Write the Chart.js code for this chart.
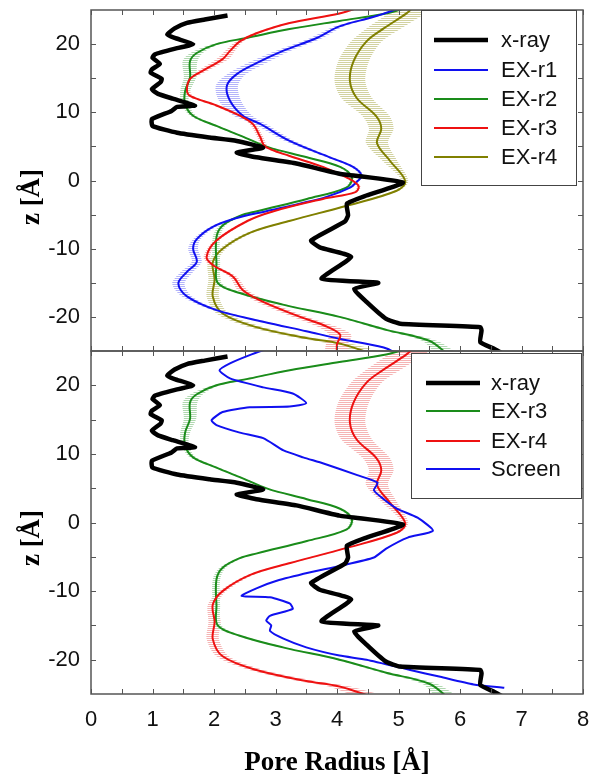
<!DOCTYPE html>
<html>
<head>
<meta charset="utf-8">
<script src="https://cdn.jsdelivr.net/npm/chart.js@4.4.0/dist/chart.umd.min.js"></script>
<style>
  html, body { margin: 0; padding: 0; background: #fff; }
  #wrap { position: relative; width: 592px; height: 778px; }
  #topChart { position: absolute; left: 0; top: 0; }
  #botChart { position: absolute; left: 0; top: 350px; }
</style>
</head>
<body>
<div id="wrap">
  <canvas id="topChart" width="592" height="352"></canvas>
  <canvas id="botChart" width="592" height="428"></canvas>
</div>
<script>
// axis ticks (minor ticks every 0.5 A in r, every 5 A in z)
const xTickValues = [0, 0.5, 1, 1.5, 2, 2.5, 3, 3.5, 4, 4.5, 5, 5.5, 6, 6.5, 7, 7.5, 8];
const zTickLabels = [-20, -10, 0, 10, 20];
const zTickMarks = [-20, -15, -10, -5, 0, 5, 10, 15, 20];

// x-ray profile (same in both panels)
const xrayZ = [24.2, 23.6, 23.1, 22.3, 21.4, 20.9, 20.0, 19.4, 18.5, 18.0, 17.1, 16.3, 15.8, 14.9, 14.4, 13.4, 12.7, 12.0, 11.0, 10.8, 10.2, 9.0, 8.0, 7.0, 6.3, 5.8, 4.8, 4.1, 3.4, 2.5, 1.0, -0.3, -2.2, -3.4, -5.1, -6.0, -8.8, -9.8, -11.2, -14.4, -15.0, -15.9, -17.8, -20.3, -21.0, -21.5, -22.0, -23.7, -24.7, -25.5];
const xrayR = [2.22, 1.85, 1.56, 1.36, 1.24, 1.36, 1.66, 1.40, 1.04, 1.00, 1.12, 0.99, 0.97, 1.15, 1.13, 0.99, 1.09, 1.33, 1.69, 1.40, 1.31, 0.99, 1.00, 1.40, 1.93, 2.37, 2.80, 2.37, 2.69, 3.34, 4.04, 5.07, 4.48, 4.16, 4.18, 4.13, 3.58, 3.72, 4.23, 3.75, 4.67, 4.28, 4.48, 4.80, 5.03, 6.33, 6.35, 6.33, 6.56, 6.72];

// EX-r1 (top panel, blue)
const exr1Z = [25.5, 24.0, 22.6, 20.9, 19.0, 17.2, 15.6, 13.9, 11.7, 9.5, 8.3, 5.8, 3.4, 2.0, 0.7, -0.2, -1.0, -2.4, -3.4, -4.5, -5.5, -6.8, -8.6, -10.0, -11.9, -13.4, -15.1, -17.0, -19.0, -20.7, -22.1, -23.2, -24.5, -25.5];
const exr1R = [5.10, 4.60, 4.04, 3.67, 3.12, 2.69, 2.37, 2.21, 2.26, 2.47, 2.75, 3.23, 3.88, 4.26, 4.40, 4.32, 4.22, 3.83, 3.39, 2.85, 2.37, 1.98, 1.72, 1.66, 1.72, 1.56, 1.42, 1.56, 2.04, 2.80, 3.50, 4.04, 4.76, 5.00];
const exr1Err = [0.05, 0.05, 0.08, 0.10, 0.12, 0.15, 0.15, 0.18, 0.18, 0.15, 0.10, 0.08, 0.05, 0.04, 0.03, 0.03, 0.03, 0.03, 0.03, 0.03, 0.04, 0.05, 0.06, 0.08, 0.08, 0.10, 0.10, 0.08, 0.06, 0.05, 0.04, 0.04, 0.04, 0.04];

// EX-r2 (top panel, green) - the bottom panel's green EX-r3 traces the same profile
const exr2Z = [25.5, 24.5, 23.4, 22.2, 20.9, 20.0, 18.7, 17.5, 15.1, 13.1, 11.2, 9.5, 8.0, 6.5, 4.9, 3.4, 2.0, 0.5, -1.0, -2.7, -4.5, -5.2, -6.6, -8.3, -12.1, -15.0, -16.5, -18.2, -20.0, -21.9, -23.5, -25.5];
const exr2R = [5.20, 4.80, 4.04, 3.23, 2.53, 2.04, 1.72, 1.61, 1.61, 1.53, 1.53, 1.66, 2.04, 2.45, 2.88, 3.51, 4.05, 4.24, 4.16, 3.51, 2.70, 2.42, 2.14, 2.04, 2.04, 2.06, 2.42, 3.12, 4.04, 4.80, 5.50, 5.80];
const exr2Err = [0.05, 0.05, 0.05, 0.05, 0.05, 0.06, 0.10, 0.12, 0.10, 0.08, 0.06, 0.05, 0.04, 0.03, 0.03, 0.03, 0.03, 0.03, 0.03, 0.03, 0.03, 0.03, 0.05, 0.06, 0.06, 0.06, 0.05, 0.05, 0.05, 0.08, 0.12, 0.15];

// EX-r3 (top panel, red)
const exr3Z = [25.5, 24.5, 23.1, 21.6, 20.4, 19.0, 17.8, 16.1, 14.9, 13.3, 12.4, 11.0, 9.5, 8.3, 6.4, 5.0, 3.6, 2.0, 0.2, -0.8, -1.7, -2.7, -4.5, -5.9, -8.8, -11.2, -12.4, -14.1, -16.1, -17.8, -20.0, -21.3, -22.6, -24.0, -25.5];
const exr3R = [4.40, 4.04, 3.23, 2.69, 2.42, 2.26, 2.14, 1.82, 1.61, 1.56, 1.61, 2.04, 2.42, 2.63, 2.75, 2.83, 3.23, 3.77, 4.21, 4.35, 4.30, 3.77, 2.97, 2.55, 2.04, 1.88, 1.98, 2.31, 2.47, 2.80, 3.40, 3.80, 4.05, 4.00, 4.00];
const exr3Err = [0.05, 0.05, 0.05, 0.05, 0.06, 0.08, 0.10, 0.08, 0.06, 0.05, 0.05, 0.05, 0.05, 0.05, 0.05, 0.05, 0.04, 0.03, 0.03, 0.03, 0.03, 0.03, 0.03, 0.03, 0.04, 0.05, 0.05, 0.06, 0.08, 0.10, 0.12, 0.15, 0.18, 0.18, 0.18];

// EX-r4 (olive in top panel, red in bottom panel)
const exr4Z = [25.5, 24.5, 22.3, 20.4, 17.5, 14.6, 12.1, 9.4, 7.6, 5.5, 2.9, -0.1, -1.5, -3.7, -5.9, -7.6, -10.0, -12.0, -14.5, -17.0, -19.5, -21.5, -23.1, -23.9, -25.5];
const exr4R = [5.25, 5.13, 4.76, 4.48, 4.27, 4.21, 4.32, 4.64, 4.72, 4.65, 4.86, 5.11, 4.97, 4.16, 3.24, 2.60, 2.14, 1.98, 2.01, 1.98, 2.14, 2.69, 3.50, 4.04, 4.60];
const exr4Err = [0.30, 0.30, 0.28, 0.25, 0.25, 0.25, 0.25, 0.22, 0.20, 0.18, 0.12, 0.05, 0.04, 0.04, 0.04, 0.05, 0.06, 0.08, 0.10, 0.10, 0.10, 0.12, 0.15, 0.18, 0.20];

// Screen (bottom panel, blue)
const screenZ = [25.6, 24.4, 23.2, 22.2, 21.0, 19.7, 18.8, 17.4, 16.9, 16.8, 16.1, 14.9, 14.2, 13.1, 12.3, 10.5, 9.5, 8.6, 6.9, 5.8, 4.7, 3.4, 2.0, 0.7, -1.2, -2.2, -3.8, -5.1, -6.3, -7.3, -8.5, -9.6, -10.7, -10.9, -11.8, -12.6, -13.6, -14.3, -15.0, -15.8, -16.9, -18.2, -19.4, -20.0, -21.5, -22.5, -23.6, -24.1];
const screenR = [2.95, 2.58, 2.26, 2.09, 2.26, 2.80, 3.28, 3.50, 3.23, 2.58, 2.14, 1.96, 2.04, 2.42, 2.80, 3.13, 3.45, 3.78, 4.33, 4.66, 4.60, 4.76, 4.98, 5.31, 5.56, 5.15, 4.80, 4.60, 4.06, 3.55, 3.02, 2.69, 2.45, 2.91, 3.23, 3.28, 2.91, 2.85, 2.93, 2.91, 3.12, 3.50, 4.04, 4.48, 5.19, 5.68, 6.22, 6.72];

const BLACK = '#000000', BLUE = '#1010f0', GREEN = '#1a8c1a', RED = '#ee1111', OLIVE = '#808000';

function pts(r, z) {
  return r.map((v, i) => ({ x: v, y: z[i] }));
}

// closed outline r-err going down, r+err coming back up
function bandPts(r, z, e) {
  const lo = r.map((v, i) => ({ x: v - e[i], y: z[i] }));
  const hi = r.map((v, i) => ({ x: v + e[i], y: z[i] })).reverse();
  return lo.concat(hi);
}

// horizontal hatch like the error bars of the original
function hatch(color) {
  const c = document.createElement('canvas');
  c.width = 4; c.height = 2;
  const g = c.getContext('2d');
  g.fillStyle = color;
  g.fillRect(0, 0, 4, 1);
  return g.createPattern(c, 'repeat');
}

function line(label, r, z, color, width, tension, order) {
  return {
    label: label, data: pts(r, z), showLine: true, borderColor: color, backgroundColor: color,
    borderWidth: width, pointRadius: 0, tension: tension, fill: false, order: order
  };
}

function band(r, z, e, color) {
  return {
    label: '', isBand: true, data: bandPts(r, z, e), showLine: true, borderWidth: 0,
    borderColor: 'rgba(0,0,0,0)', backgroundColor: hatch(color), pointRadius: 0,
    tension: 0.3, fill: 'shape', order: 10
  };
}

const framePlugin = {
  id: 'frame',
  afterDatasetsDraw(chart, args, opts) {
    const { ctx, chartArea: a, scales: { x, y } } = chart;
    ctx.save();
    ctx.strokeStyle = '#555';
    ctx.lineWidth = 1.5;
    ctx.strokeRect(a.left, a.top, a.right - a.left, a.bottom - a.top);
    ctx.lineWidth = 1;
    ctx.beginPath();
    xTickValues.forEach(v => {
      const px = Math.round(x.getPixelForValue(v)) + 0.5;
      ctx.moveTo(px, a.top); ctx.lineTo(px, a.top + 5);
      ctx.moveTo(px, a.bottom); ctx.lineTo(px, a.bottom - 5);
    });
    zTickMarks.forEach(v => {
      const py = Math.round(y.getPixelForValue(v)) + 0.5;
      ctx.moveTo(a.left, py); ctx.lineTo(a.left + 5, py);
      ctx.moveTo(a.right, py); ctx.lineTo(a.right - 5, py);
    });
    ctx.stroke();

    // legend box
    const b = opts.box;
    ctx.fillStyle = '#fff';
    ctx.fillRect(b[0], b[1], b[2] - b[0], b[3] - b[1]);
    ctx.strokeStyle = '#444';
    ctx.lineWidth = 1;
    ctx.strokeRect(b[0] + 0.5, b[1] + 0.5, b[2] - b[0], b[3] - b[1]);
    const items = chart.data.datasets.filter(d => !d.isBand);
    ctx.font = '22px "Liberation Sans", Arial, sans-serif';
    ctx.textBaseline = 'middle';
    ctx.textAlign = 'left';
    items.forEach((d, i) => {
      const ly = opts.rows[i];
      ctx.strokeStyle = d.borderColor;
      ctx.lineWidth = d.borderWidth;
      ctx.beginPath();
      ctx.moveTo(opts.lineX[0], ly); ctx.lineTo(opts.lineX[1], ly);
      ctx.stroke();
      ctx.fillStyle = '#111';
      ctx.fillText(d.label, opts.textX, ly + 1);
    });

    // axis titles
    ctx.fillStyle = '#000';
    ctx.font = 'bold 27px "Liberation Serif", "Times New Roman", serif';
    ctx.textAlign = 'center';
    ctx.save();
    ctx.translate(opts.yTitle[0], opts.yTitle[1]);
    ctx.rotate(-Math.PI / 2);
    ctx.fillText('z [Å]', 0, 0);
    ctx.restore();
    if (opts.xTitle) {
      ctx.fillText('Pore Radius [Å]', opts.xTitle[0], opts.xTitle[1]);
    }
    ctx.restore();
  }
};

Chart.defaults.font.family = '"Liberation Sans", Arial, sans-serif';
Chart.defaults.font.size = 22;
Chart.defaults.color = '#111';

// no extra room for end labels: the plot areas are placed by hand
function noPad(s) {
  s.paddingTop = 0; s.paddingBottom = 0; s.paddingLeft = 0; s.paddingRight = 0;
}

function yScale() {
  return {
    type: 'linear', min: -25, max: 25,
    afterBuildTicks: s => { s.ticks = zTickLabels.map(v => ({ value: v })); },
    afterFit: s => { s.width = 91; noPad(s); },
    grid: { display: false, drawTicks: false },
    border: { display: false },
    ticks: { padding: 11, color: '#111', font: { size: 22 } }
  };
}

const topChart = new Chart(document.getElementById('topChart'), {
  type: 'scatter',
  data: {
    datasets: [
      line('x-ray', xrayR, xrayZ, BLACK, 4.5, 0.15, 0),
      line('EX-r1', exr1R, exr1Z, BLUE, 2, 0.35, 2),
      line('EX-r2', exr2R, exr2Z, GREEN, 2, 0.35, 3),
      line('EX-r3', exr3R, exr3Z, RED, 2, 0.35, 1),
      line('EX-r4', exr4R, exr4Z, OLIVE, 2, 0.35, 4),
      band(exr1R, exr1Z, exr1Err, '#b4b4fa'),
      band(exr2R, exr2Z, exr2Err, '#b0d8b0'),
      band(exr3R, exr3Z, exr3Err, '#f5b0b0'),
      band(exr4R, exr4Z, exr4Err, '#d2d2a0')
    ]
  },
  options: {
    responsive: false,
    animation: false,
    layout: { padding: { left: 0, right: 9, top: 10, bottom: 1 } },
    scales: {
      x: { type: 'linear', min: 0, max: 8, display: false, afterFit: noPad },
      y: yScale()
    },
    plugins: {
      legend: { display: false },
      tooltip: { enabled: false },
      frame: {
        box: [421, 10, 576, 185],
        rows: [40, 70, 99, 128, 157],
        lineX: [434, 488],
        textX: 501,
        yTitle: [32, 197]
      }
    }
  },
  plugins: [framePlugin]
});

const botChart = new Chart(document.getElementById('botChart'), {
  type: 'scatter',
  data: {
    datasets: [
      line('x-ray', xrayR, xrayZ, BLACK, 4.5, 0.15, 0),
      line('EX-r3', exr2R, exr2Z, GREEN, 2, 0.35, 3),
      line('EX-r4', exr4R, exr4Z, RED, 2, 0.35, 2),
      line('Screen', screenR, screenZ, BLUE, 2, 0.2, 1),
      band(exr2R, exr2Z, exr2Err, '#b0d8b0'),
      band(exr4R, exr4Z, exr4Err, '#f5b4b4')
    ]
  },
  options: {
    responsive: false,
    animation: false,
    layout: { padding: { left: 0, right: 9, top: 1, bottom: 0 } },
    scales: {
      x: {
        type: 'linear', min: 0, max: 8,
        afterFit: s => { s.height = 84; noPad(s); },
        grid: { display: false, drawTicks: false },
        border: { display: false },
        ticks: { stepSize: 1, padding: 13, color: '#111', font: { size: 22 } }
      },
      y: yScale()
    },
    plugins: {
      legend: { display: false },
      tooltip: { enabled: false },
      frame: {
        box: [411, 3, 581, 148],
        rows: [33, 61, 91, 119],
        lineX: [426, 480],
        textX: 491,
        yTitle: [32, 188],
        xTitle: [337, 413]
      }
    }
  },
  plugins: [framePlugin]
});
</script>
</body>
</html>
